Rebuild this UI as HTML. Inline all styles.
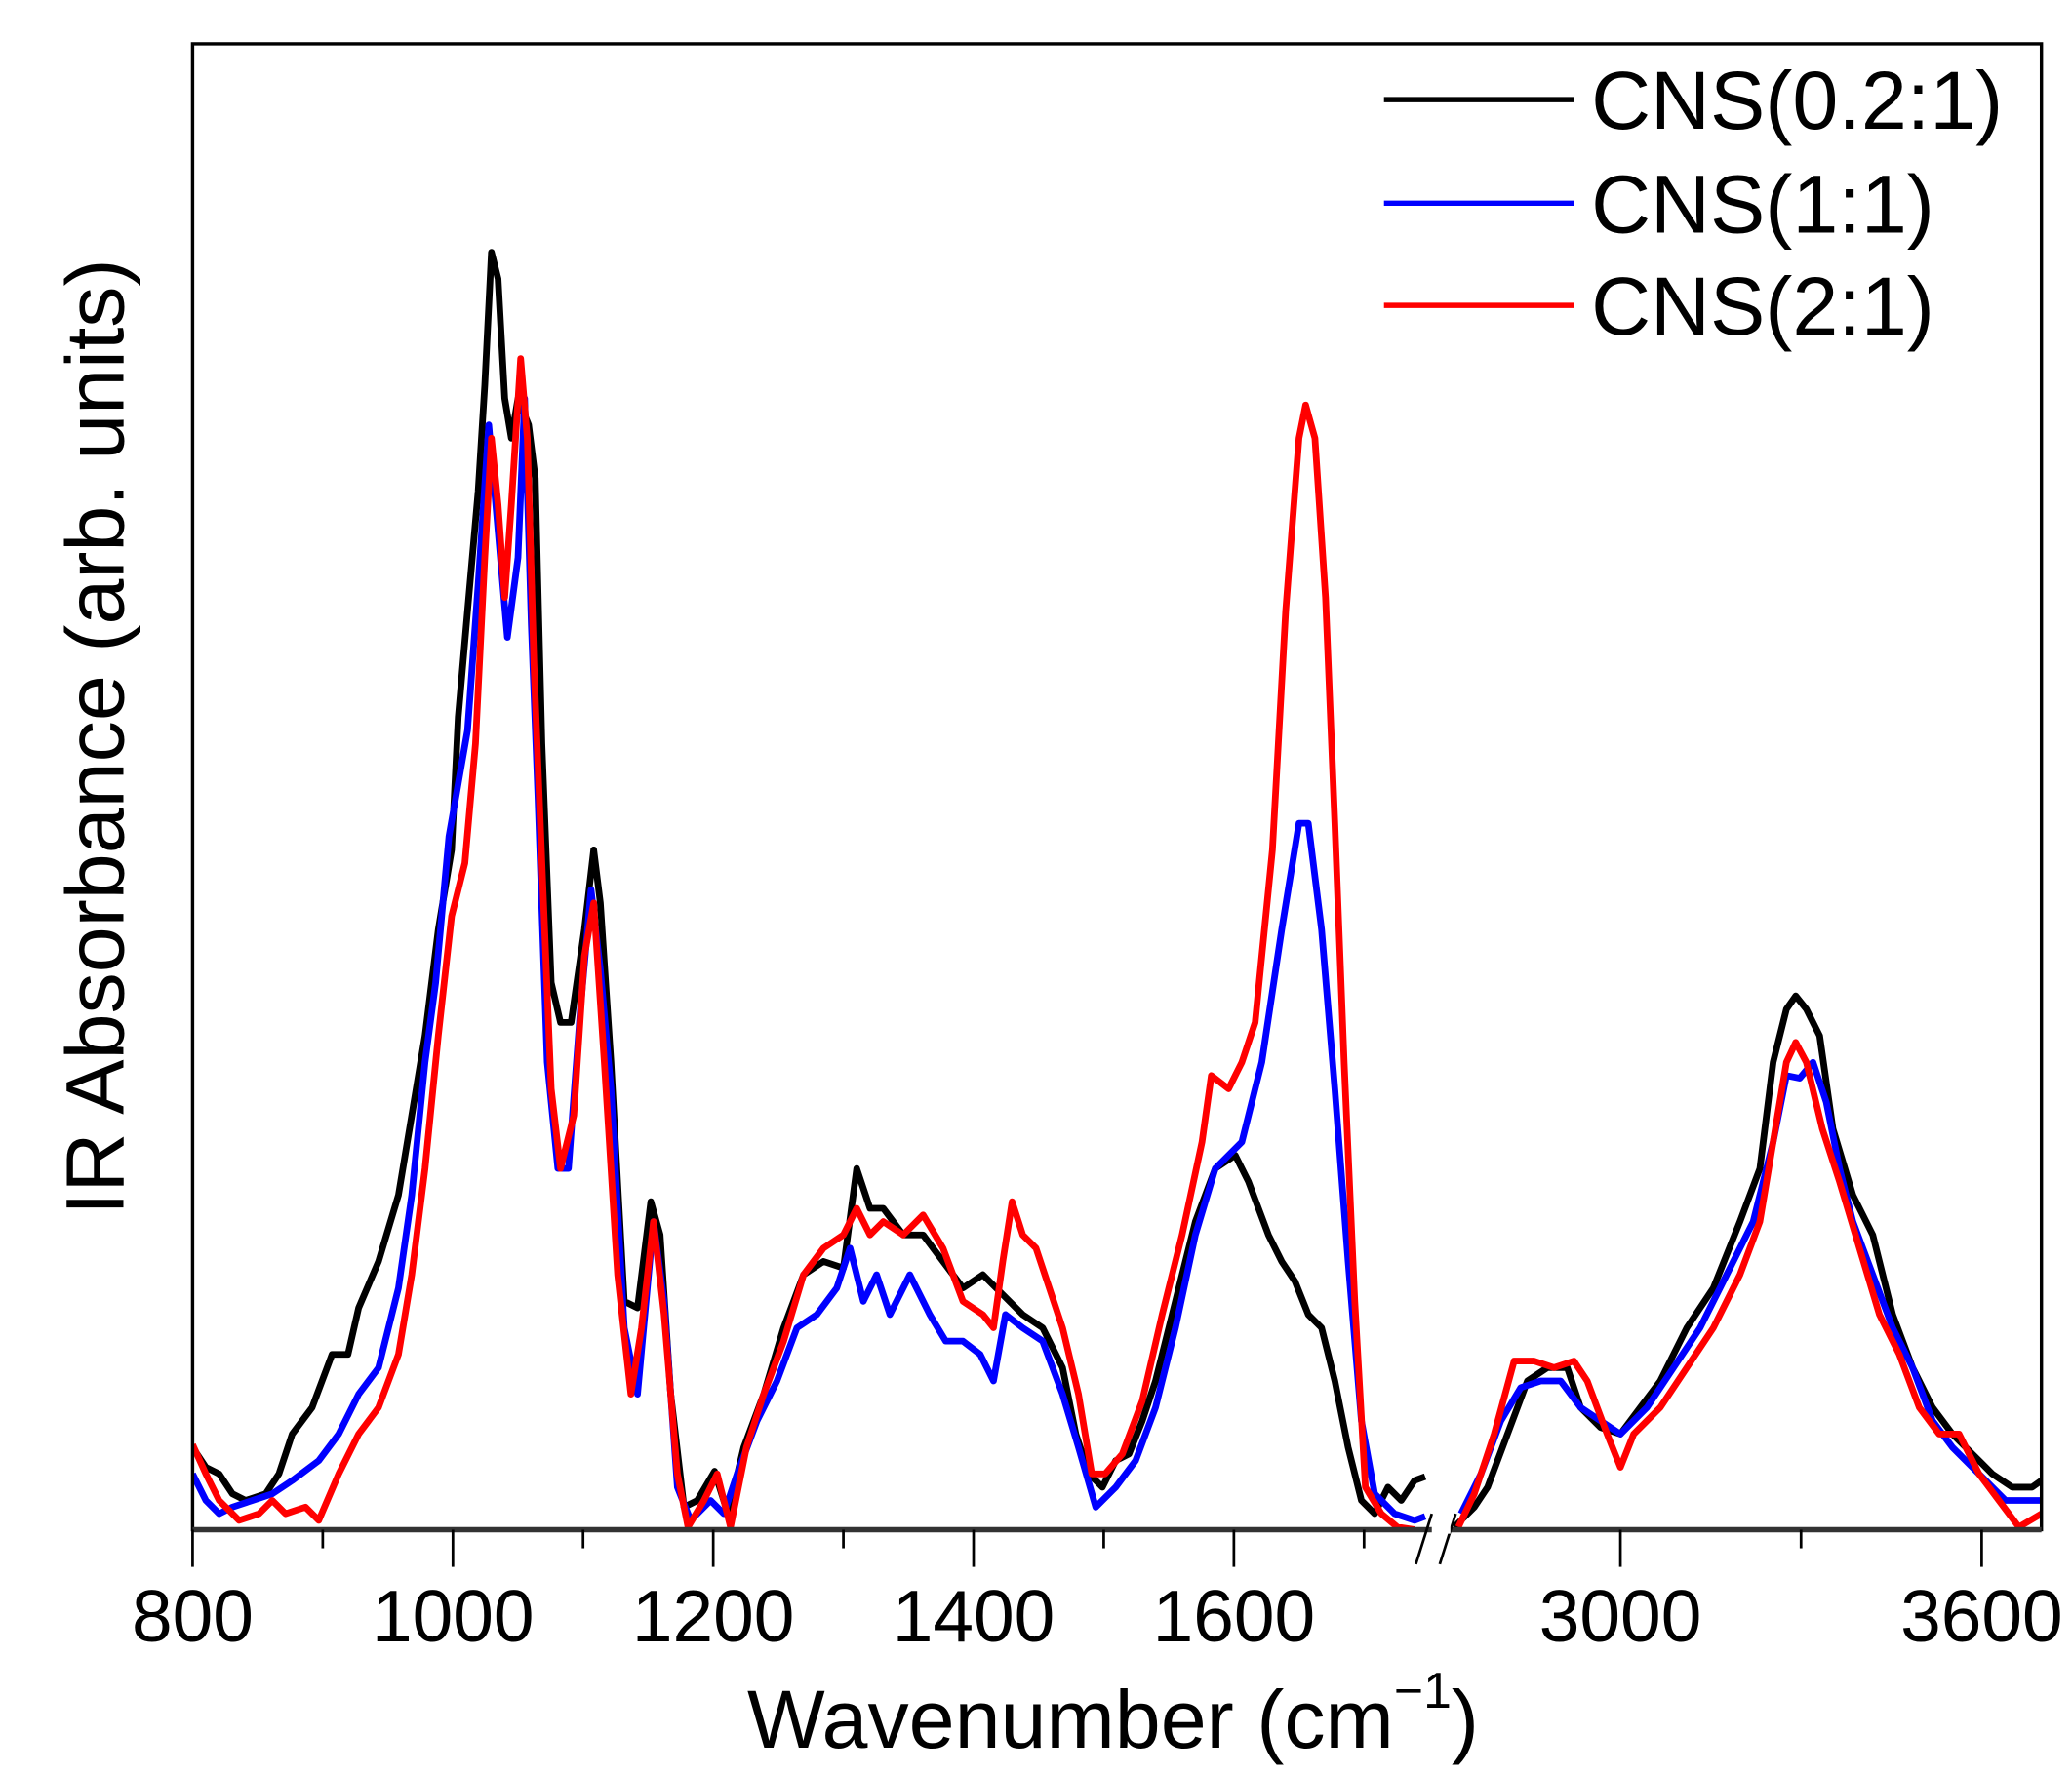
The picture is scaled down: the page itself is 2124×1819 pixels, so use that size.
<!DOCTYPE html>
<html><head><meta charset="utf-8"><style>html,body{margin:0;padding:0;background:#fff}svg{display:block}</style></head>
<body>
<svg width="2124" height="1819" viewBox="0 0 1560 1336" xmlns="http://www.w3.org/2000/svg" font-family="Liberation Sans, Arial, sans-serif">
<defs><clipPath id="c"><rect x="145" y="33" width="1392" height="1119"/></clipPath></defs>
<rect width="1560" height="1336" fill="#fff"/>
<g clip-path="url(#c)" fill="none" stroke-width="5" stroke-linejoin="round">
<polyline stroke="#000" points="145,1090 155,1105 165,1110 175,1125 185,1130 200,1125 210,1110 220,1080 235,1060 250,1020 262,1020 270,985 285,950 300,900 310,840 320,780 330,700 340,640 345,540 352,460 360,370 365,290 370,190 375,210 380,300 385,330 390,300 398,320 403,360 408,560 415,740 422,770 430,770 440,700 447,640 452,680 460,800 470,980 480,985 490,905 497,930 505,1050 515,1135 525,1130 538,1108 548,1140 560,1090 575,1050 590,1000 605,960 620,950 635,955 645,880 655,910 665,910 680,930 695,930 710,950 725,970 740,960 755,975 770,990 785,1000 800,1030 810,1080 820,1110 830,1120 840,1100 850,1095 860,1070 870,1040 885,980 900,920 915,880 930,870 940,890 955,930 965,950 975,965 985,990 995,1000 1005,1040 1015,1090 1025,1130 1035,1140 1045,1120 1055,1130 1065,1115 1073,1112"/>
<polyline stroke="#000" points="1095,1150 1110,1135 1120,1120 1135,1080 1150,1040 1165,1030 1180,1030 1190,1060 1205,1075 1220,1080 1235,1060 1250,1040 1270,1000 1290,970 1310,920 1325,880 1335,800 1345,760 1352,750 1360,760 1370,780 1380,850 1395,900 1410,930 1425,990 1440,1030 1455,1060 1470,1080 1485,1095 1500,1110 1515,1120 1530,1120 1537,1115"/>
<polyline stroke="#0000ff" points="145,1110 155,1130 165,1140 175,1135 190,1130 205,1125 220,1115 240,1100 255,1080 270,1050 285,1030 300,970 310,900 320,800 328,740 338,630 345,590 352,550 360,440 368,320 375,400 382,480 390,420 395,300 400,470 405,600 412,800 420,880 428,880 437,760 445,670 452,730 460,820 470,1000 480,1050 492,920 500,980 510,1120 520,1145 535,1130 545,1140 555,1110 570,1070 585,1040 600,1000 615,990 630,970 640,940 650,980 660,960 670,990 685,960 700,990 712,1010 725,1010 738,1020 748,1040 757,990 770,1000 785,1010 800,1050 812,1090 825,1135 840,1120 855,1100 870,1060 885,1000 900,930 915,880 935,860 950,800 965,700 978,620 985,620 995,700 1005,820 1015,950 1025,1070 1035,1125 1050,1140 1065,1145 1073,1142"/>
<polyline stroke="#0000ff" points="1100,1140 1115,1110 1130,1070 1145,1045 1160,1040 1175,1040 1190,1060 1205,1070 1220,1080 1240,1060 1260,1030 1280,1000 1300,960 1320,920 1335,860 1345,810 1355,812 1365,800 1375,830 1385,880 1395,920 1410,960 1425,1000 1440,1030 1455,1070 1470,1090 1490,1110 1510,1130 1537,1130"/>
<polyline stroke="#ff0000" points="145,1088 155,1110 165,1130 180,1145 195,1140 205,1130 215,1140 230,1135 240,1145 255,1110 270,1080 285,1060 300,1020 310,960 320,880 330,780 340,690 350,650 358,560 365,420 370,330 375,380 380,450 385,380 392,270 397,330 402,500 408,650 415,820 422,880 432,840 440,720 447,680 455,800 465,960 475,1050 483,1000 492,920 500,990 510,1110 518,1150 530,1130 540,1110 550,1150 562,1090 575,1050 590,1010 605,960 620,940 635,930 645,910 655,930 665,920 680,930 695,915 710,940 725,980 740,990 748,1000 755,950 762,905 770,930 780,940 790,970 800,1000 812,1050 822,1110 832,1110 845,1095 860,1055 875,990 890,930 905,860 912,810 925,820 935,800 945,770 958,640 968,460 978,330 983,305 990,330 998,450 1005,620 1012,800 1020,980 1028,1120 1040,1140 1052,1150 1065,1152"/>
<polyline stroke="#ff0000" points="1098,1150 1110,1125 1125,1080 1140,1025 1155,1025 1170,1030 1185,1025 1195,1040 1210,1080 1220,1105 1230,1080 1250,1060 1270,1030 1290,1000 1310,960 1325,920 1335,860 1345,800 1352,785 1360,800 1372,850 1385,890 1400,940 1415,990 1430,1020 1445,1060 1460,1080 1475,1080 1490,1110 1505,1130 1520,1150 1537,1140"/>
</g>
<rect x="145" y="33" width="1392" height="1119" fill="none" stroke="#000" stroke-width="2.5"/>
<line x1="145" y1="1152" x2="1537" y2="1152" stroke="#333" stroke-width="4"/>
<g stroke="#000" stroke-width="2">
<line x1="145" y1="1152" x2="145" y2="1180"/><line x1="341" y1="1152" x2="341" y2="1180"/><line x1="537" y1="1152" x2="537" y2="1180"/><line x1="733" y1="1152" x2="733" y2="1180"/><line x1="929" y1="1152" x2="929" y2="1180"/>
<line x1="243" y1="1152" x2="243" y2="1166"/><line x1="439" y1="1152" x2="439" y2="1166"/><line x1="635" y1="1152" x2="635" y2="1166"/><line x1="831" y1="1152" x2="831" y2="1166"/><line x1="1027" y1="1152" x2="1027" y2="1166"/>
<line x1="1220" y1="1152" x2="1220" y2="1180"/><line x1="1492" y1="1152" x2="1492" y2="1180"/><line x1="1356" y1="1152" x2="1356" y2="1166"/>
<line x1="1066" y1="1178" x2="1078" y2="1140"/><line x1="1084" y1="1178" x2="1096" y2="1140"/>
</g>
<line x1="1078" y1="1152" x2="1092" y2="1152" stroke="#fff" stroke-width="6"/>
<g font-size="55" text-anchor="middle" fill="#000">
<text x="145" y="1236">800</text><text x="341" y="1236">1000</text><text x="537" y="1236">1200</text><text x="733" y="1236">1400</text><text x="929" y="1236">1600</text><text x="1220" y="1236">3000</text><text x="1492" y="1236">3600</text>
</g>
<text x="838" y="1316" font-size="62" text-anchor="middle">Wavenumber (cm<tspan font-size="38" dy="-30">−1</tspan><tspan dy="30">)</tspan></text>
<text transform="translate(93,555) rotate(-90)" font-size="62" text-anchor="middle">IR Absorbance (arb. units)</text>
<g stroke-width="4">
<line x1="1042" y1="75" x2="1185" y2="75" stroke="#000"/>
<line x1="1042" y1="153" x2="1185" y2="153" stroke="#0000ff"/>
<line x1="1042" y1="230" x2="1185" y2="230" stroke="#ff0000"/>
</g>
<g font-size="62" fill="#000">
<text x="1198" y="97">CNS(0.2:1)</text><text x="1198" y="175">CNS(1:1)</text><text x="1198" y="252">CNS(2:1)</text>
</g>
</svg>
</body></html>
